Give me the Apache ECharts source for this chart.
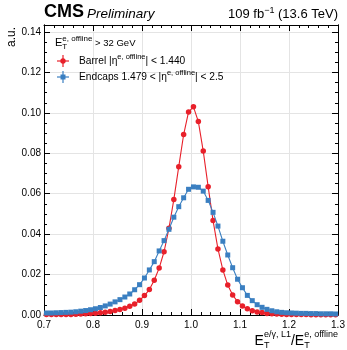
<!DOCTYPE html>
<html><head><meta charset="utf-8">
<script src="https://cdn.jsdelivr.net/npm/echarts@6/dist/echarts.min.js"></script>
<style>html,body{margin:0;padding:0;background:#fff}#c{width:347px;height:350px}</style>
</head><body><div id="c"></div>
<script>
// ---- data ----
const binCenters = [0.705,0.715,0.725,0.735,0.745,0.755,0.765,0.775,0.785,0.795,
  0.805,0.815,0.825,0.835,0.845,0.855,0.865,0.875,0.885,0.895,
  0.905,0.915,0.925,0.935,0.945,0.955,0.965,0.975,0.985,0.995,
  1.005,1.015,1.025,1.035,1.045,1.055,1.065,1.075,1.085,1.095,
  1.105,1.115,1.125,1.135,1.145,1.155,1.165,1.175,1.185,1.195,
  1.205,1.215,1.225,1.235,1.245,1.255,1.265,1.275,1.285,1.295];
const barrel = [0.0002,0.0002,0.0002,0.0003,0.0003,0.0003,0.0004,0.0005,0.0006,0.0007,
  0.0009,0.0011,0.0014,0.0017,0.0022,0.0027,0.0034,0.0043,0.0054,0.0073,
  0.0096,0.0126,0.0172,0.0232,0.0313,0.0429,0.0572,0.0734,0.0893,0.1005,
  0.1030,0.0957,0.0811,0.0635,0.0467,0.0327,0.0223,0.0148,0.0099,0.0066,
  0.0045,0.0031,0.0021,0.0015,0.0012,0.0008,0.0006,0.0005,0.0004,0.0003,
  0.0003,0.0002,0.0002,0.0002,0.0001,0.0001,0.0001,0.0001,0.0001,0.0001];
const endcaps = [0.0010,0.0010,0.0011,0.0012,0.0013,0.0014,0.0016,0.0019,0.0022,0.0026,
  0.0031,0.0037,0.0045,0.0054,0.0065,0.0076,0.0089,0.0104,0.0125,0.0150,
  0.0183,0.0223,0.0264,0.0317,0.0368,0.0424,0.0484,0.0536,0.0580,0.0622,
  0.0634,0.0632,0.0613,0.0567,0.0508,0.0440,0.0365,0.0297,0.0234,0.0177,
  0.0135,0.0097,0.0071,0.0051,0.0038,0.0028,0.0021,0.0016,0.0013,0.0011,
  0.0010,0.0009,0.0008,0.0008,0.0007,0.0007,0.0006,0.0006,0.0006,0.0005];
const xTickLabels = [0.7,0.8,0.9,1.0,1.1,1.2,1.3];
const yTickLabels = [0,0.02,0.04,0.06,0.08,0.10,0.12,0.14];
const yMinor = [0.005,0.01,0.015,0.025,0.03,0.035,0.045,0.05,0.055,0.065,0.07,0.075,
  0.085,0.09,0.095,0.105,0.11,0.115,0.125,0.13,0.135];

const RED = '#e8202a', BLUE = '#3a7fc1';
const FF = '"Liberation Sans", Arial, Helvetica, sans-serif';
const YMAX = 0.1435;

// ---- text helpers ----
const cv = document.createElement('canvas').getContext('2d');
function tw(t, s, w, i) { cv.font = (i||'normal') + ' ' + (w||'normal') + ' ' + s + 'px ' + FF; return cv.measureText(t).width; }
function textRun(x, baseline, pieces, align) {
  const widths = pieces.map(p => p.stack ? Math.max(...p.stack.map(q => tw(q.t, q.s, q.w, q.i))) : tw(p.t, p.s, p.w, p.i));
  const total = widths.reduce((a, b) => a + b, 0);
  let cx = align === 'right' ? x - total : x;
  const els = [];
  pieces.forEach((p, k) => {
    (p.stack || [p]).forEach(q => {
      els.push({type: 'text', x: cx, y: baseline + (q.dy || 0) - 0.35 * q.s, z: 100,
        style: {text: q.t, fontSize: q.s, fontFamily: FF, fontWeight: q.w || 'normal', fontStyle: q.i || 'normal',
          fill: '#000', align: 'left', verticalAlign: 'middle'}});
    });
    cx += widths[k] + (p.gap || 0);
  });
  return els;
}

const graphics = [];
// header
graphics.push(...textRun(44, 18.5, [{t: 'CMS', s: 18, w: 'bold', gap: 3}, {t: 'Preliminary', s: 13.5, i: 'italic'}]));
graphics.push(...textRun(338, 18.5, [{t: '109 fb', s: 13}, {t: '\u22121', s: 9, dy: -5}, {t: ' (13.6 TeV)', s: 13}], 'right'));
// legend title
graphics.push(...textRun(55, 47, [{t: 'E', s: 11}, {stack: [{t: 'e, offline', s: 8, dy: -5.5}, {t: 'T', s: 8, dy: 3}]}, {t: ' > 32 GeV', s: 9.5}]));
// legend rows
graphics.push(...textRun(79, 64.5, [{t: 'Barrel |\u03b7', s: 10.2}, {t: 'e, offline', s: 7.5, dy: -4.8}, {t: '| < 1.440', s: 10.2}]));
graphics.push(...textRun(79, 80.5, [{t: 'Endcaps 1.479 < |\u03b7', s: 10.2}, {t: 'e, offline', s: 7.5, dy: -4.8}, {t: '| < 2.5', s: 10.2}]));
function legendMarker(cx, cy, color, square) {
  graphics.push({type: 'line', shape: {x1: cx - 6, y1: cy, x2: cx + 6, y2: cy}, style: {stroke: color, lineWidth: 1.2}, z: 100});
  graphics.push({type: 'line', shape: {x1: cx, y1: cy - 6, x2: cx, y2: cy + 6}, style: {stroke: color, lineWidth: 1.2}, z: 100});
  if (square) graphics.push({type: 'rect', shape: {x: cx - 2.5, y: cy - 2.5, width: 5, height: 5}, style: {fill: color}, z: 100});
  else graphics.push({type: 'circle', shape: {cx: cx, cy: cy, r: 2.7}, style: {fill: color}, z: 100});
}
legendMarker(63, 61, RED, false);
legendMarker(63, 77, BLUE, true);
// y-axis title (rotated)
graphics.push({type: 'text', x: 12, y: 27, rotation: Math.PI / 2, z: 100,
  style: {text: 'a.u.', fontSize: 12, fontFamily: FF, fill: '#000', align: 'right', verticalAlign: 'middle'}});
// x-axis title
graphics.push(...textRun(338, 346, [
  {t: 'E', s: 14},
  {stack: [{t: 'e/\u03b3, L1', s: 9, dy: -8}, {t: 'T', s: 9, dy: 3}]},
  {t: '/E', s: 14},
  {stack: [{t: 'e, offline', s: 9, dy: -8}, {t: 'T', s: 9, dy: 3}]}
], 'right'));

// ---- axes ----
const lineStyle = {color: '#000', width: 1};
function xAx(pos, labels) {
  return {type: 'value', position: pos, min: 0.7, max: 1.3, interval: 0.1,
    axisLine: {show: true, onZero: false, lineStyle},
    axisTick: {show: true, inside: true, length: 6, lineStyle},
    minorTick: {show: true, splitNumber: 5, length: 3, lineStyle},
    axisLabel: {show: labels, formatter: v => v.toFixed(1), fontSize: 10, fontFamily: FF, color: '#000', margin: 5},
    splitLine: {show: labels, lineStyle: {color: '#e4e4e4', width: 1}}};
}
function yAx(pos, major, labels) {
  return {type: 'value', position: pos, min: 0, max: YMAX, interval: 0.02,
    axisLine: {show: true, onZero: false, lineStyle},
    axisTick: {show: true, inside: true, length: major ? 6 : 3, lineStyle, customValues: major ? yTickLabels : yMinor},
    minorTick: {show: false},
    axisLabel: {show: labels, customValues: yTickLabels, formatter: v => v.toFixed(2), fontSize: 10, fontFamily: FF, color: '#000', margin: 3},
    splitLine: {show: labels, lineStyle: {color: '#e4e4e4', width: 1}}};
}

const chart = echarts.init(document.getElementById('c'), null, {renderer: 'canvas'});
chart.setOption({
  animation: false,
  backgroundColor: '#fff',
  grid: {left: 44, right: 9, top: 25, bottom: 35, containLabel: false, outerBoundsMode: 'none'},
  xAxis: [xAx('bottom', true), xAx('top', false)],
  yAxis: [yAx('left', true, true), yAx('right', true, false), yAx('left', false, false), yAx('right', false, false)],
  series: [
    {name: 'Barrel', type: 'line', xAxisIndex: 0, yAxisIndex: 0, z: 3,
      data: binCenters.map((x, i) => [x, barrel[i]]),
      symbol: 'circle', symbolSize: 5.5, showAllSymbol: true,
      lineStyle: {color: RED, width: 1.1}, itemStyle: {color: RED}},
    {name: 'Endcaps', type: 'line', xAxisIndex: 0, yAxisIndex: 0, z: 4,
      data: binCenters.map((x, i) => [x, endcaps[i]]),
      symbol: 'rect', symbolSize: 5, showAllSymbol: true,
      lineStyle: {color: BLUE, width: 1.1}, itemStyle: {color: BLUE}}
  ],
  graphic: graphics
});
</script></body></html>
